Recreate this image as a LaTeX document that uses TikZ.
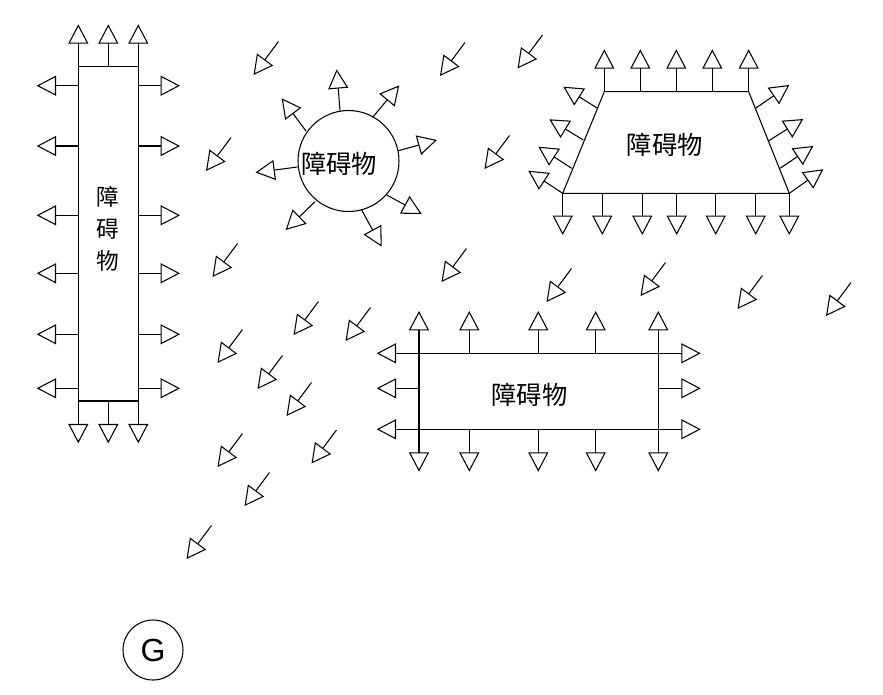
\documentclass[tikz,border=0pt]{standalone}
\usepackage{fontspec}
\newfontfamily\cjk{Noto Sans CJK SC}
\newfontfamily\latinsans{Liberation Sans}
\usetikzlibrary{arrows.meta}
\begin{document}
\begin{tikzpicture}[x=0.75pt,y=-0.75pt,
  line width=0.8pt,
  vec/.style={-{Triangle[open,length=14.5pt,width=15pt,line width=0.8pt]}},
  vecb/.style={vec,line width=1.1pt},
  lbl/.style={font=\cjk\fontsize{19}{22}\selectfont, inner sep=0pt},
  vlbl/.style={font=\cjk\fontsize{17}{20}\selectfont, inner sep=0pt}]
\useasboundingbox (0,0) rectangle (883,694);

% ---------- tall left obstacle ----------
\draw (78.3,66.7) rectangle (138.3,401);
\foreach \x in {78.3,108.3,138.3}{
  \draw[vec] (\x,66.7) -- (\x,24.3);
  \draw[vec] (\x,401) -- (\x,443.3);
}
\foreach \y in {85.7,146,215.3,273.3,334.3,388.3}{
  \draw[vec] (78.3,\y) -- (36.7,\y);
  \draw[vec] (138.3,\y) -- (180,\y);
}
\node[vlbl] (l1) at (108.3,197) {障};
\node[vlbl] (l2) at (108.3,229) {碍};
\node[vlbl] (l3) at (108.3,261) {物};

% ---------- circular obstacle ----------
\node[circle,draw,minimum size=75.75pt,inner sep=0pt] (circ) at (348.5,161) {};
\node[lbl] (ctext) at (339,164) {障碍物};
\draw[vec] (340,110.7) -- (336.7,69.3);
\draw[vec] (372.7,117.3) -- (399.3,85.3);
\draw[vec] (398.3,150.7) -- (437,140);
\draw[vec] (386.7,195) -- (421.7,214);
\draw[vec] (361.7,210) -- (381.7,246.7);
\draw[vec] (315,201.7) -- (285.7,230);
\draw[vec] (297.5,167) -- (255.5,172.5);
\draw[vec] (306,131) -- (281.7,98.3);

% ---------- trapezoid obstacle ----------
\draw (604.3,91.7) -- (748.7,91.7) -- (789.3,193.3) -- (562.7,193.3) -- cycle;
\node[lbl] (ttext) at (664.7,144.7) {障碍物};
\foreach \x in {604.3,640.3,676.3,712.3,748.7}{
  \draw[vec] (\x,91.7) -- (\x,49.3);
}
\foreach \x in {562.7,602.3,642.3,676.7,715.7,755.7,789.3}{
  \draw[vec] (\x,193.3) -- (\x,235);
}
\draw[vec] (597.5,108.3) -- (563.3,86.7);
\draw[vec] (583.3,140) -- (549.3,119.3);
\draw[vec] (571.7,168.3) -- (538.3,146.7);
\draw[vec] (562.7,193.3) -- (528.3,170.7);
\draw[vec] (755.5,108.3) -- (789.3,85);
\draw[vec] (768.8,140.7) -- (803.3,119);
\draw[vec] (780,168.3) -- (813.3,146);
\draw[vec] (789.3,193.3) -- (823.3,169.3);

% ---------- wide lower obstacle ----------
\draw (419,353.3) rectangle (658.3,429.3);
\node[lbl] (rtext) at (529.5,395) {障碍物};
\foreach \y in {353.3,388.3,429.3}{
  \draw[vec] (419,\y) -- (376.7,\y);
  \draw[vec] (658.3,\y) -- (700.7,\y);
}
\draw[vecb] (419,353.3) -- (419,311);
\draw[vecb] (419,429.3) -- (419,471.7);
\foreach \x in {469.3,538.3,595.7,658.3}{
  \draw[vec] (\x,353.3) -- (\x,311);
  \draw[vec] (\x,429.3) -- (\x,471.7);
}

% ---------- attractive field arrows ----------
\foreach \x/\y in {278.5/41.5, 465/42.5, 542.5/35, 231/137.5, 509.5/135.5,
  237.5/243.5, 466.5/248.5, 571.5/268.5, 665.5/262.5, 762.5/275.5, 851/282.5,
  318.5/301.5, 370.5/307.5, 242.5/329.5, 282.5/355.5, 311.5/382.5,
  242.5/433.5, 336.5/430, 269.5/472.5, 211.5/525.5}{
  \draw[vec] (\x,\y) -- ++(-25,33.5);
}

% ---------- goal ----------
\node[circle,draw,minimum size=45pt,inner sep=0pt,
  font=\latinsans\fontsize{24}{26}\selectfont] (goal) at (153,650) {G};
\end{tikzpicture}
\end{document}
